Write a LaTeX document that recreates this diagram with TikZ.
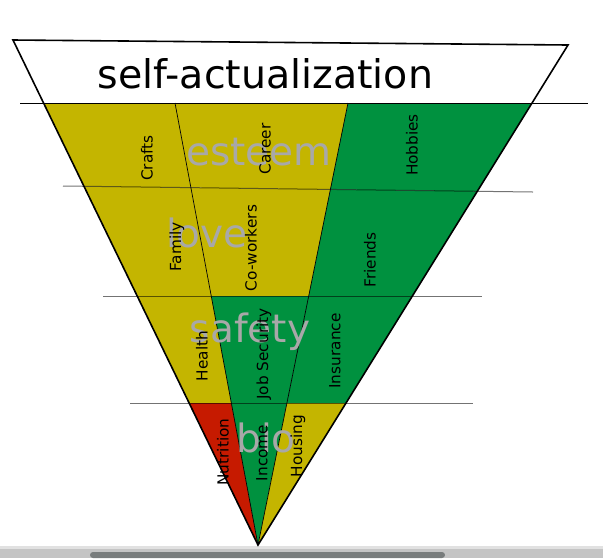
\documentclass[tikz,border=0pt]{standalone}
\usepackage{fontspec}
\setmainfont{DejaVu Sans}
\definecolor{cyel}{RGB}{196,181,0}
\definecolor{cgrn}{RGB}{0,145,63}
\definecolor{cred}{RGB}{198,26,0}
\definecolor{clbl}{RGB}{168,168,168}
\definecolor{cband}{RGB}{196,196,196}
\definecolor{cbandtop}{RGB}{225,225,225}
\definecolor{cbar}{RGB}{120,124,124}
\begin{document}
\begin{tikzpicture}[x=1pt,y=-1pt,
  yelcell/.style={fill=cyel},
  grncell/.style={fill=cgrn},
  redcell/.style={fill=cred},
  divider/.style={draw=black,line width=0.7pt},
  levelline/.style={draw=black,draw opacity=0.55,line width=1pt},
  toplevel/.style={draw=black,line width=1pt},
  outline/.style={draw=black,line width=1.6pt,line join=miter},
  biglbl/.style={font=\fontsize{39}{41}\selectfont,text=clbl,inner sep=0pt,anchor=base},
  titlelbl/.style={font=\fontsize{39.5}{41}\selectfont,text=black,inner sep=0pt,anchor=base},
  itemlbl/.style={font=\fontsize{15.3}{17}\selectfont,text=black,inner sep=0pt,rotate=90}]
\useasboundingbox (0,0) rectangle (603,558);
% scrollbar band (screenshot)
\fill[cband] (0,546) rectangle (603,558);
\fill[cbandtop] (0,546) rectangle (603,549);
\fill[cbar,rounded corners=3pt] (90,552) rectangle (445,558);
% key points
\coordinate (TL) at (13,40);
\coordinate (TR) at (568,45);
\coordinate (A) at (258,545);
\coordinate (L1) at (43.6,103);  \coordinate (P1) at (175,103);   \coordinate (Q1) at (348,103);   \coordinate (R1) at (532,103);
\coordinate (L2) at (83.8,186.3);\coordinate (P2) at (190.6,187.6);\coordinate (Q2) at (330.3,189.4);\coordinate (R2) at (477.3,191.3);
\coordinate (L3) at (137.2,296); \coordinate (P3) at (211.2,296); \coordinate (Q3) at (308.7,296); \coordinate (R3) at (412.4,296);
\coordinate (L4) at (189.1,403); \coordinate (P4) at (231.3,403); \coordinate (Q4) at (286.9,403); \coordinate (R4) at (346,403);
% white top
\fill[white] (TL)--(TR)--(R1)--(L1)--cycle;
% esteem
\path[yelcell] (L1)--(P1)--(P2)--(L2)--cycle;
\path[yelcell] (P1)--(Q1)--(Q2)--(P2)--cycle;
\path[grncell] (Q1)--(R1)--(R2)--(Q2)--cycle;
% love
\path[yelcell] (L2)--(P2)--(P3)--(L3)--cycle;
\path[yelcell] (P2)--(Q2)--(Q3)--(P3)--cycle;
\path[grncell] (Q2)--(R2)--(R3)--(Q3)--cycle;
% safety
\path[yelcell] (L3)--(P3)--(P4)--(L4)--cycle;
\path[grncell] (P3)--(Q3)--(Q4)--(P4)--cycle;
\path[grncell] (Q3)--(R3)--(R4)--(Q4)--cycle;
% bio
\path[redcell] (L4)--(P4)--(A)--cycle;
\path[grncell] (P4)--(Q4)--(A)--cycle;
\path[yelcell] (Q4)--(R4)--(A)--cycle;
% dividers
\draw[divider] (P1)--(A);
\draw[divider] (Q1)--(A);
% level lines
\coordinate (h1a) at (20,103);  \coordinate (h1b) at (588,103);
\coordinate (h2a) at (63,186);  \coordinate (h2b) at (533,192);
\coordinate (h3a) at (103,296); \coordinate (h3b) at (482,296);
\coordinate (h4a) at (130,403); \coordinate (h4b) at (473,403);
\draw[toplevel] (h1a)--(h1b);
\draw[levelline] (h2a)--(h2b);
\draw[levelline] (h3a)--(h3b);
\draw[levelline] (h4a)--(h4b);
% outline
\draw[outline] (TL)--(TR)--(A)--cycle;
% titles
\node[titlelbl] (sa) at (265.5,88) {self-actualization};
\node[biglbl] (esteem) at (259,165) {esteem};
\node[biglbl] (love) at (207,247) {love};
\node[biglbl] (safety) at (250,342) {safety};
\node[biglbl] (bio) at (266,452) {bio};
% items
\node[itemlbl] (crafts) at (147,158) {Crafts};
\node[itemlbl] (career) at (265,149) {Career};
\node[itemlbl] (hobbies) at (412,145) {Hobbies};
\node[itemlbl] (family) at (177,247) {Family};
\node[itemlbl] (coworkers) at (251,248) {Co-workers};
\node[itemlbl] (friends) at (370,260) {Friends};
\node[itemlbl] (health) at (202,356) {Health};
\node[itemlbl] (jobsec) at (264,354) {Job Security};
\node[itemlbl] (insurance) at (335,351) {Insurance};
\node[itemlbl] (nutrition) at (223,452) {Nutrition};
\node[itemlbl] (income) at (262,453) {Income};
\node[itemlbl] (housing) at (298,446) {Housing};
\end{tikzpicture}
\end{document}
